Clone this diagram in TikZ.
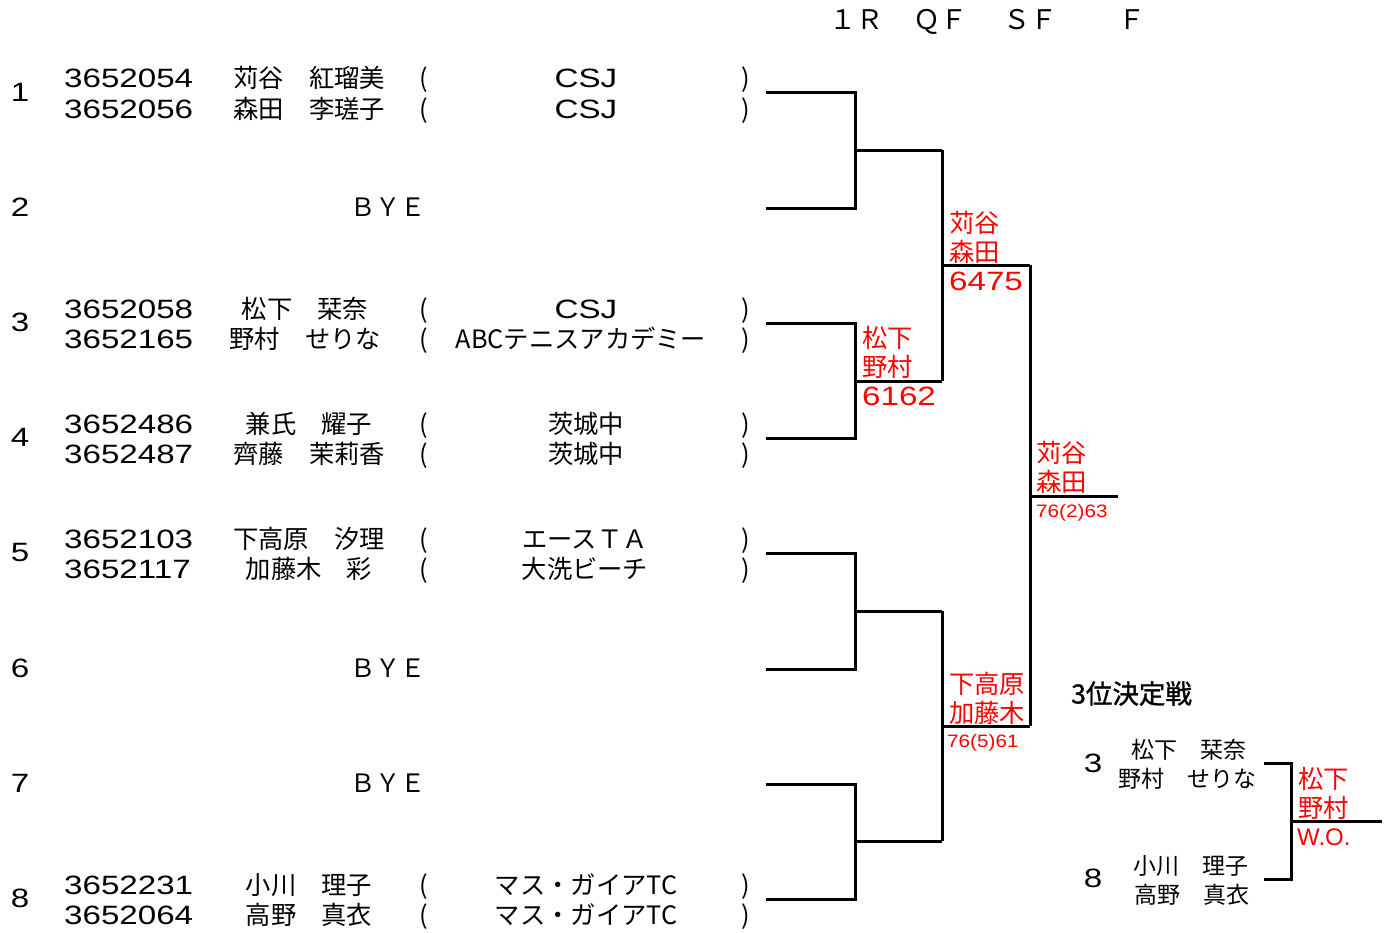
\documentclass[tikz,border=0pt]{standalone}
\usepackage{fontspec}
\newfontfamily\jp{Noto Sans CJK JP}
\newfontfamily\jpb[FakeBold=1.2]{Noto Sans CJK JP}
\newfontfamily\nm[FakeStretch=1.25]{Liberation Sans}
\newfontfamily\sm[FakeStretch=1.15]{Liberation Sans}
\newfontfamily\wo{Liberation Sans}
\tikzset{
  lbl/.style={inner sep=0pt, anchor=base},
  jpt/.style={lbl, font=\jp\fontsize{25.3}{30}\selectfont},
  jps/.style={lbl, font=\jp\fontsize{23}{28}\selectfont},
  idt/.style={lbl, anchor=base west, font=\nm\fontsize{26.5}{30}\selectfont},
  numt/.style={lbl, font=\nm\fontsize{26.5}{30}\selectfont},
  rlab/.style={jpt, anchor=base west, text=red},
  rnum/.style={idt, text=red},
  rsm/.style={lbl, anchor=base west, text=red, font=\sm\fontsize{18}{22}\selectfont},
  br/.style={line width=3pt, line join=miter},
}
\begin{document}
\begin{tikzpicture}[x=1pt,y=-1pt]
\useasboundingbox (0,0) rectangle (1386,932);
% headers
\node[jpt, font=\jp\fontsize{27}{30}\selectfont] (h1) at (856,29.5) {１Ｒ};
\node[jpt, font=\jp\fontsize{27}{30}\selectfont] (h2) at (940,29.5) {ＱＦ};
\node[jpt, font=\jp\fontsize{27}{30}\selectfont] (h3) at (1030,29.5) {ＳＦ};
\node[jpt, font=\jp\fontsize{27}{30}\selectfont] (h4) at (1132,29.5) {Ｆ};
% seeds
\node[numt] (s1) at (20,101.5) {1};
\node[numt] (s2) at (20,216.5) {2};
\node[numt] (s3) at (20,331.5) {3};
\node[numt] (s4) at (20,446.5) {4};
\node[numt] (s5) at (20,561.5) {5};
\node[numt] (s6) at (20,677.5) {6};
\node[numt] (s7) at (20,792.5) {7};
\node[numt] (s8) at (20,907.5) {8};
% row 1
\node[idt] (id1a) at (64,87.5) {3652054};
\node[idt] (id1b) at (64,118.5) {3652056};
\node[jpt] (n1a) at (309,87.5) {苅谷　紅瑠美};
\node[jpt] (n1b) at (309,118.5) {森田　李瑳子};
\node[jpt] (lp1a) at (424,87.5) {(};
\node[jpt] (lp1b) at (424,118.5) {(};
\node[numt] (c1a) at (586,87.5) {CSJ};
\node[numt] (c1b) at (586,118.5) {CSJ};
\node[jpt] (rp1a) at (746,87.5) {)};
\node[jpt] (rp1b) at (746,118.5) {)};
% BYE rows
\node[jpt] (bye2) at (388,216.5) {ＢＹＥ};
\node[jpt] (bye6) at (388,677.5) {ＢＹＥ};
\node[jpt] (bye7) at (388,792.5) {ＢＹＥ};
% row 3
\node[idt] (id3a) at (64,318.5) {3652058};
\node[idt] (id3b) at (64,348.5) {3652165};
\node[jpt] (n3a) at (305,318.5) {松下　栞奈};
\node[jpt] (n3b) at (305,348.5) {野村　せりな};
\node[jpt] (lp3a) at (424,318.5) {(};
\node[jpt] (lp3b) at (424,348.5) {(};
\node[numt] (c3a) at (586,318.5) {CSJ};
\node[jpt] (c3b) at (581,348.5) {ABCテニスアカデミー};
\node[jpt] (rp3a) at (746,318.5) {)};
\node[jpt] (rp3b) at (746,348.5) {)};
% row 4
\node[idt] (id4a) at (64,433.5) {3652486};
\node[idt] (id4b) at (64,463.5) {3652487};
\node[jpt] (n4a) at (309,433.5) {兼氏　耀子};
\node[jpt] (n4b) at (309,463.5) {齊藤　茉莉香};
\node[jpt] (lp4a) at (424,433.5) {(};
\node[jpt] (lp4b) at (424,463.5) {(};
\node[jpt] (c4a) at (586,433.5) {茨城中};
\node[jpt] (c4b) at (586,463.5) {茨城中};
\node[jpt] (rp4a) at (746,433.5) {)};
\node[jpt] (rp4b) at (746,463.5) {)};
% row 5
\node[idt] (id5a) at (64,548.5) {3652103};
\node[idt] (id5b) at (64,578.5) {3652117};
\node[jpt] (n5a) at (309,548.5) {下高原　汐理};
\node[jpt] (n5b) at (309,578.5) {加藤木　彩};
\node[jpt] (lp5a) at (424,548.5) {(};
\node[jpt] (lp5b) at (424,578.5) {(};
\node[jpt] (c5a) at (585,548.5) {エースＴＡ};
\node[jpt] (c5b) at (585,578.5) {大洗ビーチ};
\node[jpt] (rp5a) at (746,548.5) {)};
\node[jpt] (rp5b) at (746,578.5) {)};
% row 8
\node[idt] (id8a) at (64,894.5) {3652231};
\node[idt] (id8b) at (64,924.5) {3652064};
\node[jpt] (n8a) at (309,894.5) {小川　理子};
\node[jpt] (n8b) at (309,924.5) {高野　真衣};
\node[jpt] (lp8a) at (424,894.5) {(};
\node[jpt] (lp8b) at (424,924.5) {(};
\node[jpt] (c8a) at (586,894.5) {マス・ガイアTC};
\node[jpt] (c8b) at (586,924.5) {マス・ガイアTC};
\node[jpt] (rp8a) at (746,894.5) {)};
\node[jpt] (rp8b) at (746,924.5) {)};
% bracket coordinates
\coordinate (r1) at (766,92);
\coordinate (r2) at (766,208);
\coordinate (r3) at (766,323);
\coordinate (r4) at (766,438);
\coordinate (r5) at (766,553);
\coordinate (r6) at (766,669);
\coordinate (r7) at (766,784);
\coordinate (r8) at (766,899);
\coordinate (j12) at (855,150);
\coordinate (j34) at (855,381);
\coordinate (j56) at (855,611);
\coordinate (j78) at (855,841);
\coordinate (q12) at (942,150);
\coordinate (q34) at (942,381);
\coordinate (q56) at (942,611);
\coordinate (q78) at (942,841);
\coordinate (k14) at (942,265);
\coordinate (k58) at (942,726);
\coordinate (t14) at (1030,265);
\coordinate (t58) at (1030,726);
\coordinate (fj) at (1030,496);
\coordinate (fe) at (1118,496);
\draw[br] (r1) -| (j12) |- (r2);
\draw[br] (r3) -| (j34) |- (r4);
\draw[br] (r5) -| (j56) |- (r6);
\draw[br] (r7) -| (j78) |- (r8);
\draw[br] (j12) -- (q12);
\draw[br] (j34) -- (q34);
\draw[br] (j56) -- (q56);
\draw[br] (j78) -- (q78);
\draw[br] (q12) -- (k14) -- (q34);
\draw[br] (q56) -- (k58) -- (q78);
\draw[br] (k14) -- (t14);
\draw[br] (k58) -- (t58);
\draw[br] (t14) -- (fj) -- (t58);
\draw[br] (fj) -- (fe);
% red results
\node[rlab] (w34a) at (862,347.5) {松下};
\node[rlab] (w34b) at (862,376.5) {野村};
\node[rnum] (sc34) at (862,405.5) {6162};
\node[rlab] (w14a) at (949,232.5) {苅谷};
\node[rlab] (w14b) at (949,261.5) {森田};
\node[rnum] (sc14) at (949,290.5) {6475};
\node[rlab] (wfa) at (1036,462.5) {苅谷};
\node[rlab] (wfb) at (1036,491.5) {森田};
\node[rsm] (scf) at (1036,517.5) {76(2)63};
\node[rlab] (w58a) at (949,693.5) {下高原};
\node[rlab] (w58b) at (949,722.5) {加藤木};
\node[rsm] (sc58) at (947,747.5) {76(5)61};
% third place
\node[lbl, anchor=base west, font=\jpb\fontsize{26.5}{30}\selectfont] (tp) at (1071,703.5) {3位決定戦};
\node[numt] (tps3) at (1093,772.5) {3};
\node[numt] (tps8) at (1093,887.5) {8};
\node[jps] (tn3a) at (1189,758.7) {松下　栞奈};
\node[jps] (tn3b) at (1187,787.7) {野村　せりな};
\node[jps] (tn8a) at (1191,874.7) {小川　理子};
\node[jps] (tn8b) at (1192,903.7) {高野　真衣};
\coordinate (u3) at (1264,763);
\coordinate (u8) at (1264,879);
\coordinate (uj) at (1291,821);
\coordinate (ue) at (1382,821);
\draw[br] (u3) -| (uj) |- (u8);
\draw[br] (uj) -- (ue);
\node[rlab] (tw1) at (1298,788.5) {松下};
\node[rlab] (tw2) at (1298,817.5) {野村};
\node[lbl, anchor=base west, text=red, font=\wo\fontsize{24}{28}\selectfont] (two) at (1297,845.5) {W.O.};
\end{tikzpicture}
\end{document}
